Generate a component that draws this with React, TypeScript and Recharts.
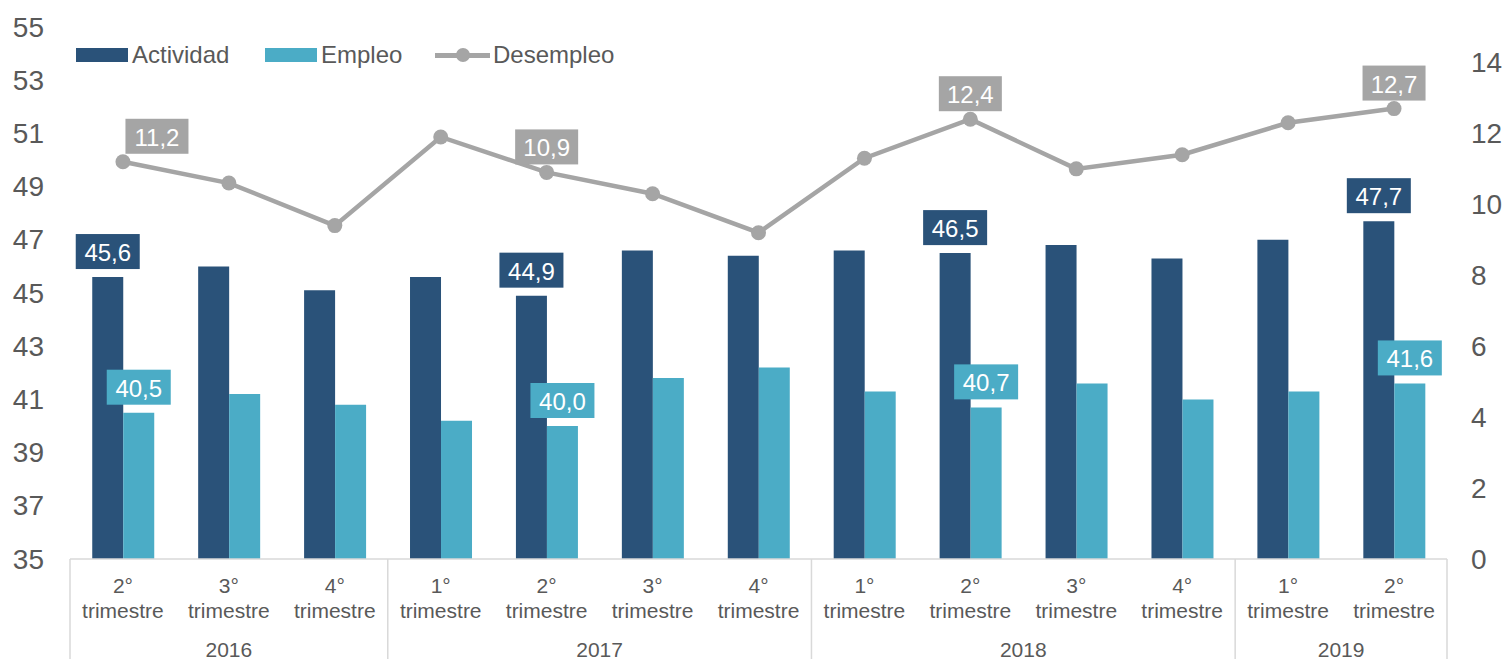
import { ComposedChart, Bar, Line, XAxis, YAxis, LabelList } from "recharts";

const quarters = ["2°", "3°", "4°", "1°", "2°", "3°", "4°", "1°", "2°", "3°", "4°", "1°", "2°"];
const years = ["2016", "2016", "2016", "2017", "2017", "2017", "2017", "2018", "2018", "2018", "2018", "2019", "2019"];
const actividad = [45.6, 46.0, 45.1, 45.6, 44.9, 46.6, 46.4, 46.6, 46.5, 46.8, 46.3, 47.0, 47.7];
const empleo = [40.5, 41.2, 40.8, 40.2, 40.0, 41.8, 42.2, 41.3, 40.7, 41.6, 41.0, 41.3, 41.6];
const desempleo = [11.2, 10.6, 9.4, 11.9, 10.9, 10.3, 9.2, 11.3, 12.4, 11.0, 11.4, 12.3, 12.7];
const labeledIndexes = [0, 4, 8, 12];
const leftTicks = [35, 37, 39, 41, 43, 45, 47, 49, 51, 53, 55];
const rightTicks = [0, 2, 4, 6, 8, 10, 12, 14];

const data = quarters.map((q, i) => ({
  key: `${q}-${years[i]}`,
  quarter: q,
  year: years[i],
  actividad: actividad[i],
  empleo: empleo[i],
  desempleo: desempleo[i],
}));

const WIDTH = 1502;
const HEIGHT = 659;
const LEFT_W = 70;
const RIGHT_W = 55;
const TOP = 27;
const XAXIS_H = 100;
const PLOT_BOTTOM = HEIGHT - XAXIS_H;
const BAND = (WIDTH - LEFT_W - RIGHT_W) / data.length;

const FONT = '"Liberation Sans", Arial, sans-serif';
const TEXT = "#595959";
const NAVY = "#2A5279";
const CYAN = "#4BACC6";
const GREY = "#A5A5A5";
const SEP = "#D9D9D9";

const fmt = (v: number) => v.toFixed(1).replace(".", ",");

function boxLabel(fill: string, dxFirst = 0, bw = 64) {
  return (props: any) => {
    const { x, y, width, value, index } = props;
    if (!labeledIndexes.includes(index)) return null;
    const bh = 35;
    const cx = x + (width || 0) / 2 + (index === 0 ? dxFirst : 0);
    const top = y - 8 - bh;
    return (
      <g>
        <rect x={cx - bw / 2} y={top} width={bw} height={bh} fill={fill} />
        <text
          x={cx}
          y={top + bh / 2 + 1}
          fill="#fff"
          fontSize={24}
          fontFamily={FONT}
          textAnchor="middle"
          dominantBaseline="central"
        >
          {fmt(value)}
        </text>
      </g>
    );
  };
}

function QuarterTick(props: any) {
  const { x, payload } = props;
  const i = payload.index;
  const row = data[i];
  const els: any[] = [];
  const first = i === 0 || data[i - 1].year !== row.year;
  if (first) {
    let count = 0;
    while (i + count < data.length && data[i + count].year === row.year) count++;
    const left = x - BAND / 2;
    els.push(<line key="s" x1={left} x2={left} y1={PLOT_BOTTOM} y2={HEIGHT} stroke={SEP} strokeWidth={1.5} />);
    els.push(
      <text key="y" x={left + (count * BAND) / 2} y={649} fill={TEXT} fontSize={21} fontFamily={FONT} textAnchor="middle" dominantBaseline="central">
        {row.year}
      </text>
    );
  }
  if (i === data.length - 1) {
    const right = x + BAND / 2;
    els.push(<line key="e" x1={right} x2={right} y1={PLOT_BOTTOM} y2={HEIGHT} stroke={SEP} strokeWidth={1.5} />);
  }
  return (
    <g>
      {els}
      <text x={x} y={585} fill={TEXT} fontSize={21} fontFamily={FONT} textAnchor="middle" dominantBaseline="central">
        {row.quarter}
      </text>
      <text x={x} y={610} fill={TEXT} fontSize={21} fontFamily={FONT} textAnchor="middle" dominantBaseline="central">
        trimestre
      </text>
    </g>
  );
}

function LeftTick(props: any) {
  const { y, payload } = props;
  return (
    <text x={44} y={y} fill={TEXT} fontSize={28} fontFamily={FONT} textAnchor="end" dominantBaseline="central">
      {payload.value}
    </text>
  );
}

function RightTick(props: any) {
  const { y, payload } = props;
  return (
    <text x={1471} y={y} fill={TEXT} fontSize={28} fontFamily={FONT} textAnchor="start" dominantBaseline="central">
      {payload.value}
    </text>
  );
}

function ChartLegend() {
  const txt = { position: "absolute" as const, top: 41, fontSize: 24, color: TEXT, fontFamily: FONT, lineHeight: "28px" };
  return (
    <div style={{ position: "absolute", left: 0, top: 0 }}>
      <div style={{ position: "absolute", left: 76, top: 48, width: 52, height: 14, background: NAVY }} />
      <div style={{ ...txt, left: 132 }}>Actividad</div>
      <div style={{ position: "absolute", left: 265, top: 48, width: 52, height: 14, background: CYAN }} />
      <div style={{ ...txt, left: 321 }}>Empleo</div>
      <div style={{ position: "absolute", left: 435, top: 53, width: 55, height: 4.5, background: GREY }} />
      <div style={{ position: "absolute", left: 456, top: 48, width: 14, height: 14, borderRadius: 7, background: GREY }} />
      <div style={{ ...txt, left: 493 }}>Desempleo</div>
    </div>
  );
}

export default function App() {
  return (
    <div style={{ position: "absolute", left: 0, top: 0, width: WIDTH, height: HEIGHT, background: "#fff" }}>
      <ComposedChart
        width={WIDTH}
        height={HEIGHT}
        data={data}
        margin={{ top: TOP, right: 0, bottom: 0, left: 0 }}
        barCategoryGap="21%"
        barGap={0}
      >
        <XAxis
          dataKey="key"
          interval={0}
          height={XAXIS_H}
          tickLine={false}
          axisLine={{ stroke: SEP, strokeWidth: 1.5 }}
          tick={<QuarterTick />}
        />
        <YAxis
          yAxisId="left"
          orientation="left"
          width={LEFT_W}
          domain={[35, 55]}
          ticks={leftTicks}
          allowDataOverflow
          axisLine={false}
          tickLine={false}
          tick={<LeftTick />}
        />
        <YAxis
          yAxisId="right"
          orientation="right"
          width={RIGHT_W}
          domain={[0, 15]}
          ticks={rightTicks}
          axisLine={false}
          tickLine={false}
          tick={<RightTick />}
        />
        <Bar yAxisId="left" dataKey="actividad" fill={NAVY} isAnimationActive={false}>
          <LabelList dataKey="actividad" content={boxLabel(NAVY)} />
        </Bar>
        <Bar yAxisId="left" dataKey="empleo" fill={CYAN} isAnimationActive={false}>
          <LabelList dataKey="empleo" content={boxLabel(CYAN)} />
        </Bar>
        <Line
          yAxisId="right"
          dataKey="desempleo"
          stroke={GREY}
          strokeWidth={4.5}
          dot={{ r: 7.5, fill: GREY, stroke: GREY, strokeWidth: 0 }}
          activeDot={false}
          isAnimationActive={false}
        >
          <LabelList dataKey="desempleo" content={boxLabel(GREY, 34, 63)} />
        </Line>
      </ComposedChart>
      <ChartLegend />
    </div>
  );
}
